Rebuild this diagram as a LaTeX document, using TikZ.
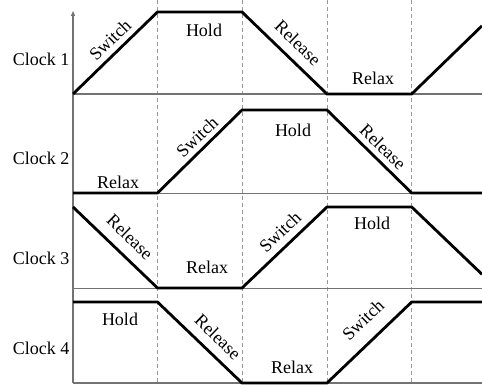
\documentclass[tikz,border=0pt]{standalone}
\usepackage{fontspec}
\setmainfont{Liberation Serif}
\usetikzlibrary{arrows.meta}
\begin{document}
\begin{tikzpicture}[x=1pt,y=-1pt,
  wave/.style={line width=2.8pt,line join=miter,black},
  guide/.style={gray!80,line width=0.9pt,dash pattern=on 4pt off 3pt},
  rail/.style={gray!90!black,line width=1.1pt},
  lab/.style={font=\fontsize{18}{20}\selectfont,inner sep=0pt},
  clk/.style={font=\fontsize{18}{20}\selectfont,inner sep=0pt}]
\useasboundingbox (0,0) rectangle (482,385);
% phase boundaries
\foreach \x in {157.5,242,327,411.7}
  \draw[guide] (\x,0) -- (\x,385);
% baselines and axis
\draw[rail] (73,94) -- (482,94);
\draw[rail] (73,193.5) -- (482,193.5);
\draw[rail] (73,288.5) -- (482,288.5);
\draw[rail] (73,383) -- (482,383);
\draw[rail,-{Triangle[length=5pt,width=4pt]}] (73,383) -- (73,11);
% Clock 1
\draw[wave] (73,94) -- (157.5,12) -- (242,12) -- (327,94) -- (411.7,94) -- (482,25.8);
% Clock 2
\draw[wave] (73,193) -- (157.5,193) -- (242,110) -- (327,110) -- (411.7,193) -- (482,193);
% Clock 3
\draw[wave] (73,207) -- (157.5,288) -- (242,288) -- (327,207) -- (411.7,207) -- (482,274.3);
% Clock 4
\draw[wave] (73,302) -- (157.5,302) -- (242,383) -- (327,383) -- (411.7,302) -- (482,302);
% row titles
\node[clk] (c1) at (41,59) {Clock 1};
\node[clk] (c2) at (41,158) {Clock 2};
\node[clk] (c3) at (41,258) {Clock 3};
\node[clk] (c4) at (41,348) {Clock 4};
% phase labels, Clock 1
\node[lab,rotate=44] (s1) at (110,40) {Switch};
\node[lab] (h1) at (204,30) {Hold};
\node[lab,rotate=-44] (r1) at (298,43) {Release};
\node[lab] (x1) at (373,78) {Relax};
% Clock 2
\node[lab] (x2) at (118,182) {Relax};
\node[lab,rotate=44] (s2) at (197,137) {Switch};
\node[lab] (h2) at (293,130) {Hold};
\node[lab,rotate=-44] (r2) at (383,147) {Release};
% Clock 3
\node[lab,rotate=-44] (r3) at (130,237) {Release};
\node[lab] (x3) at (207,267) {Relax};
\node[lab,rotate=44] (s3) at (280,232) {Switch};
\node[lab] (h3) at (372,223) {Hold};
% Clock 4
\node[lab] (h4) at (120,319) {Hold};
\node[lab,rotate=-44] (r4) at (218,337) {Release};
\node[lab] (x4) at (292,367) {Relax};
\node[lab,rotate=44] (s4) at (363,320) {Switch};
\end{tikzpicture}
\end{document}
